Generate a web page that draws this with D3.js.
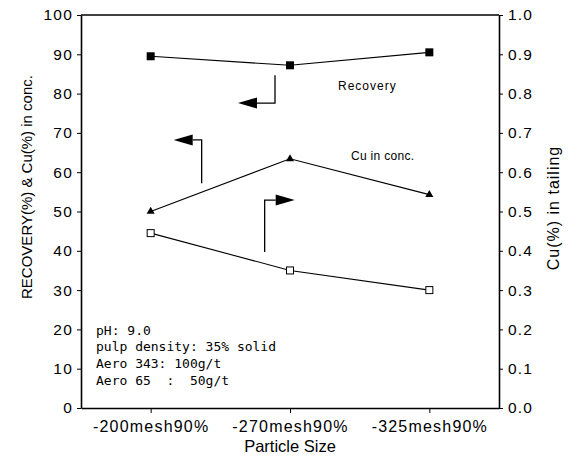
<!DOCTYPE html>
<html>
<head>
<meta charset="utf-8">
<script src="https://cdn.jsdelivr.net/npm/d3@7"></script>
<style>
  body { margin: 0; background: #fff; }
  text { fill: #000; }
</style>
</head>
<body>
<div class="chart"></div>
<script>
// data
var sizes = ["-200mesh90%", "-270mesh90%", "-325mesh90%"];
var recovery = [89.5, 87.2, 90.5];
var cuConc = [50.0, 63.4, 54.3];
var cuTailing = [0.445, 0.35, 0.30];
var leftTicks = [0, 10, 20, 30, 40, 50, 60, 70, 80, 90, 100];
var rightTicks = [0, 0.1, 0.2, 0.3, 0.4, 0.5, 0.6, 0.7, 0.8, 0.9, 1.0];
var notes = ["pH: 9.0", "pulp density: 35% solid", "Aero 343: 100g/t", "Aero 65  :  50g/t"];

var sans = "'Liberation Sans', Arial, sans-serif";
var mono = "'DejaVu Sans Mono', 'Liberation Mono', monospace";

var svgWidth = 576, svgHeight = 456;
var margin = { top: 15, right: 77, bottom: 48, left: 81 };
var width = svgWidth - margin.left - margin.right;
var height = svgHeight - margin.top - margin.bottom;

var svg = d3.select(".chart").append("svg")
    .attr("width", svgWidth)
    .attr("height", svgHeight)
    .style("font-family", sans);

var g = svg.append("g")
    .attr("transform", `translate(${margin.left}, ${margin.top})`);

// scales
var x = d3.scalePoint().domain(sizes).range([0, width]).padding(0.5);
var y = d3.scaleLinear().domain([0, 100]).range([height, 0]);
var y2 = d3.scaleLinear().domain([0, 1]).range([height, 0]);

// axes
var leftAxis = d3.axisLeft(y).tickValues(leftTicks).tickSize(4).tickSizeOuter(0).tickPadding(4);
var rightAxis = d3.axisRight(y2).tickValues(rightTicks).tickSize(4).tickSizeOuter(0).tickPadding(5)
    .tickFormat(d3.format(".1f"));
var bottomAxis = d3.axisBottom(x).tickSize(5).tickSizeOuter(0).tickPadding(8);

function styleAxis(sel, size) {
  sel.select(".domain").attr("stroke", "#000").attr("stroke-width", 1.6);
  sel.selectAll(".tick line").attr("stroke", "#000").attr("stroke-width", 1);
  sel.selectAll("text")
    .style("font-family", sans)
    .style("font-size", size + "px")
    .attr("letter-spacing", "1.2px")
    .attr("fill", "#000");
}

g.append("g").call(leftAxis).call(styleAxis, 15.5);
g.append("g").attr("transform", `translate(${width}, 0)`).call(rightAxis).call(styleAxis, 15.5);
g.append("g").attr("transform", `translate(0, ${height})`).call(bottomAxis).call(styleAxis, 16);

// top frame line
g.append("line")
    .attr("x1", 0).attr("x2", width)
    .attr("y1", 0).attr("y2", 0)
    .attr("stroke", "#000").attr("stroke-width", 1.6);

// series lines
var lineLeft = d3.line().x((d, i) => x(sizes[i])).y(d => y(d));
var lineRight = d3.line().x((d, i) => x(sizes[i])).y(d => y2(d));

g.append("path").datum(recovery).attr("d", lineLeft)
    .attr("fill", "none").attr("stroke", "#000").attr("stroke-width", 1.1);
g.append("path").datum(cuConc).attr("d", lineLeft)
    .attr("fill", "none").attr("stroke", "#000").attr("stroke-width", 1.1);
g.append("path").datum(cuTailing).attr("d", lineRight)
    .attr("fill", "none").attr("stroke", "#000").attr("stroke-width", 1.1);

// markers
g.selectAll(".rec").data(recovery).enter().append("rect")
    .attr("x", (d, i) => x(sizes[i]) - 4)
    .attr("y", d => y(d) - 4)
    .attr("width", 8).attr("height", 8)
    .attr("fill", "#000");

g.selectAll(".conc").data(cuConc).enter().append("path")
    .attr("transform", (d, i) => `translate(${x(sizes[i])}, ${y(d)})`)
    .attr("d", d3.symbol().type(d3.symbolTriangle).size(28))
    .attr("fill", "#000");

g.selectAll(".tail").data(cuTailing).enter().append("rect")
    .attr("x", (d, i) => x(sizes[i]) - 3.5)
    .attr("y", d => y2(d) - 3.5)
    .attr("width", 7).attr("height", 7)
    .attr("fill", "#fff").attr("stroke", "#000").attr("stroke-width", 1);

// series labels
g.append("text")
    .attr("x", x(sizes[1]) + 48).attr("y", y(81))
    .style("font-size", "12px").attr("letter-spacing", "1px")
    .text("Recovery");
g.append("text")
    .attr("x", x(sizes[1]) + 61).attr("y", y(63))
    .style("font-size", "12px").attr("letter-spacing", "0.3px")
    .text("Cu in conc.");

// pointer arrows (elbow line + filled head)
function arrow(px, yFrom, yTo, len, dir) {
  // px: x of vertical stem, dir -1 points left / +1 points right
  var hx = px + dir * len;
  g.append("path")
      .attr("d", `M${px},${yFrom}V${yTo}H${hx}`)
      .attr("fill", "none").attr("stroke", "#000").attr("stroke-width", 1.3);
  g.append("path")
      .attr("d", `M${hx},${yTo - 5.5}L${hx + dir * 19},${yTo}L${hx},${yTo + 5.5}Z`)
      .attr("fill", "#000");
}
arrow(x(sizes[1]) - 15, y(84.7), y(77.6), 18, -1);
arrow(x(sizes[0]) + 51, y(57.2), y(68.2), 9, -1);
arrow(x(sizes[0]) + 114, y(39.7), y(52.9), 11, 1);

// condition notes
g.selectAll(".note").data(notes).enter().append("text")
    .attr("x", 15)
    .attr("y", (d, i) => y(18.7) + i * 16.8)
    .style("font-family", mono)
    .style("font-size", "13px")
    .style("white-space", "pre")
    .text(d => d);

// axis titles
svg.append("text")
    .attr("transform", "translate(32, 187) rotate(-90)")
    .attr("text-anchor", "middle")
    .style("font-size", "15px")
    .text("RECOVERY(%) & Cu(%) in conc.");

svg.append("text")
    .attr("transform", "translate(559, 208) rotate(-90)")
    .attr("text-anchor", "middle")
    .style("font-size", "16px")
    .attr("letter-spacing", "1px")
    .text("Cu(%) in tailing");

svg.append("text")
    .attr("x", margin.left + width / 2).attr("y", 452)
    .attr("text-anchor", "middle")
    .style("font-size", "16.5px")
    .text("Particle Size");
</script>
</body>
</html>
